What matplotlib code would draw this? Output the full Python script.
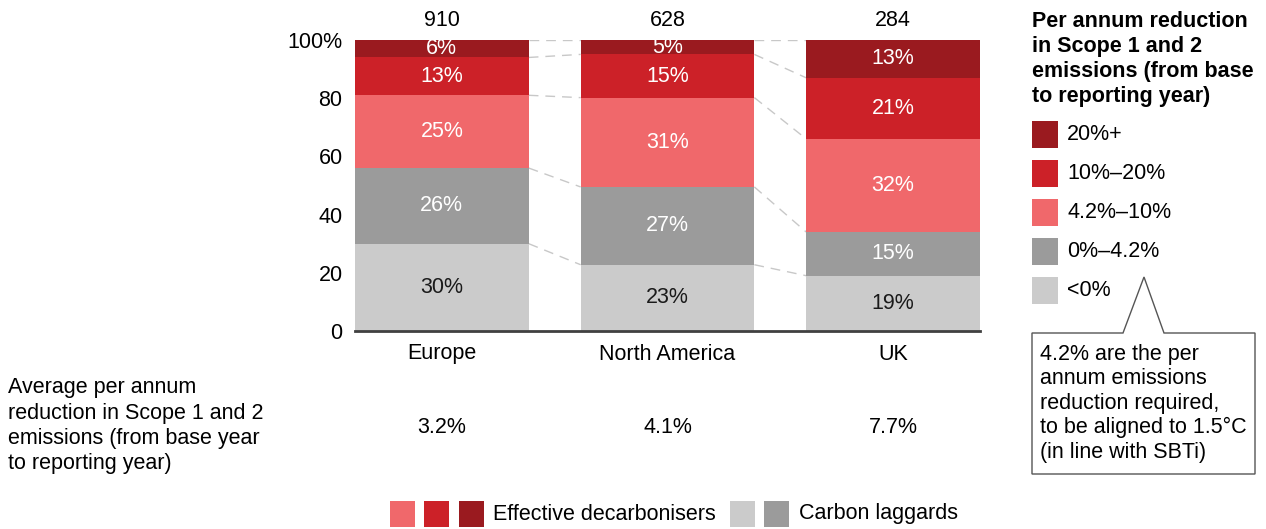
import matplotlib
matplotlib.use('Agg')
import matplotlib.pyplot as plt
import matplotlib.transforms as mtransforms
from matplotlib.patches import Rectangle, Polygon
import numpy as np

plt.rcParams['font.family'] = ['Liberation Sans', 'DejaVu Sans']

# ---- data ----
regions = ['Europe', 'North America', 'UK']
companies = [910, 628, 284]
avg_reduction = ['3.2%', '4.1%', '7.7%']

# share of companies per reduction band (bottom -> top)
band_names = ['<0%', '0%–4.2%', '4.2%–10%', '10%–20%', '20%+']
below_zero = [30, 23, 19]
zero_to_42 = [26, 27, 15]
from_42_to_10 = [25, 31, 32]
from_10_to_20 = [13, 15, 21]
above_20 = [6, 5, 13]

colors = ['#cbcbcb', '#9b9b9b', '#f0686b', '#cc2128', '#9a1a1f']
text_colors = ['#1a1a1a', 'white', 'white', 'white', 'white']

legend_title = ['Per annum reduction', 'in Scope 1 and 2',
                'emissions (from base', 'to reporting year)']
side_note = ['Average per annum', 'reduction in Scope 1 and 2',
             'emissions (from base year', 'to reporting year)']
callout = ['4.2% are the per', 'annum emissions', 'reduction required,',
           'to be aligned to 1.5°C', '(in line with SBTi)']

W, H = 1266, 529
FS = 15.5
fig = plt.figure(figsize=(W / 100, H / 100), dpi=100)


def fx(px):
    return px / W


def fy(py):
    return 1 - py / H


def lines(x, y0, step, txt, **kw):
    for i, t in enumerate(txt):
        fig.text(fx(x), fy(y0 + i * step), t, va='baseline', fontsize=FS, **kw)


ax = fig.add_axes([fx(355), fy(331), fx(980) - fx(355), fy(40) - fy(331)])

bands = np.array([below_zero, zero_to_42, from_42_to_10, from_10_to_20, above_20], dtype=float)
shares = bands / bands.sum(axis=0) * 100
x = np.arange(len(regions))
width = 0.77
bottom = np.zeros(len(regions))
for i in range(len(band_names)):
    ax.bar(x, shares[i], width, bottom=bottom, color=colors[i], linewidth=0, zorder=2)
    for j in range(len(regions)):
        ax.text(x[j], bottom[j] + shares[i][j] / 2, '%d%%' % bands[i][j],
                ha='center', va='center', color=text_colors[i], fontsize=FS, zorder=3)
    bottom += shares[i]

# dashed connectors between bars
cum = np.cumsum(shares, axis=0)
for k in range(len(band_names)):
    for j in range(len(regions) - 1):
        ax.plot([x[j] + width / 2, x[j + 1] - width / 2], [cum[k][j], cum[k][j + 1]],
                color='#c8c8c8', lw=1.0, ls=(0, (7, 5)), zorder=1)

ax.set_xlim(-width / 2, len(regions) - 1 + width / 2)
ax.set_ylim(0, 100)
ax.set_yticks([0, 20, 40, 60, 80, 100])
ax.set_yticklabels(['0', '20', '40', '60', '80', '100%'], fontsize=FS)
ax.set_xticks(x)
ax.set_xticklabels(regions, fontsize=FS)
ax.tick_params(axis='y', length=0, pad=9)
ax.tick_params(axis='x', length=0, pad=9)
for s in ['left', 'top', 'right']:
    ax.spines[s].set_visible(False)
ax.spines['bottom'].set_color('#404040')
ax.spines['bottom'].set_linewidth(2)
ax.spines['bottom'].set_zorder(4)

trans = mtransforms.blended_transform_factory(ax.transData, fig.transFigure)
for j in range(len(regions)):
    ax.text(x[j], fy(26), str(companies[j]), transform=trans, ha='center',
            va='baseline', fontsize=FS)
    ax.text(x[j], fy(433), avg_reduction[j], transform=trans, ha='center',
            va='baseline', fontsize=FS)

# left note
lines(8, 393, 25.5, side_note)

# right legend
lines(1032, 27, 25, legend_title, fontweight='bold')
for i, name in enumerate(band_names[::-1]):
    top = 121 + i * 39
    fig.add_artist(Rectangle((fx(1032), fy(top + 27)), fx(26), 27 / H,
                             transform=fig.transFigure, color=colors[::-1][i], lw=0))
    fig.text(fx(1067), fy(top + 13.5), name, va='center', fontsize=FS)

# callout
pts = [(1032, 333), (1123, 333), (1144, 277), (1164, 333), (1255, 333),
       (1255, 474), (1032, 474)]
fig.add_artist(Polygon([(fx(a), fy(b)) for a, b in pts], closed=True,
                       transform=fig.transFigure, facecolor='white',
                       edgecolor='#555555', lw=1))
lines(1040, 360, 24.5, callout)

# bottom legend
for px, c in [(390, colors[2]), (424, colors[3]), (459, colors[4]),
              (730, colors[0]), (764, colors[1])]:
    fig.add_artist(Rectangle((fx(px), fy(527)), fx(25), 26 / H,
                             transform=fig.transFigure, color=c, lw=0))
fig.text(fx(493), fy(514), 'Effective decarbonisers', va='center', fontsize=FS)
fig.text(fx(799), fy(514), 'Carbon laggards', va='center', fontsize=FS)

fig.savefig('out.png', dpi=100)
